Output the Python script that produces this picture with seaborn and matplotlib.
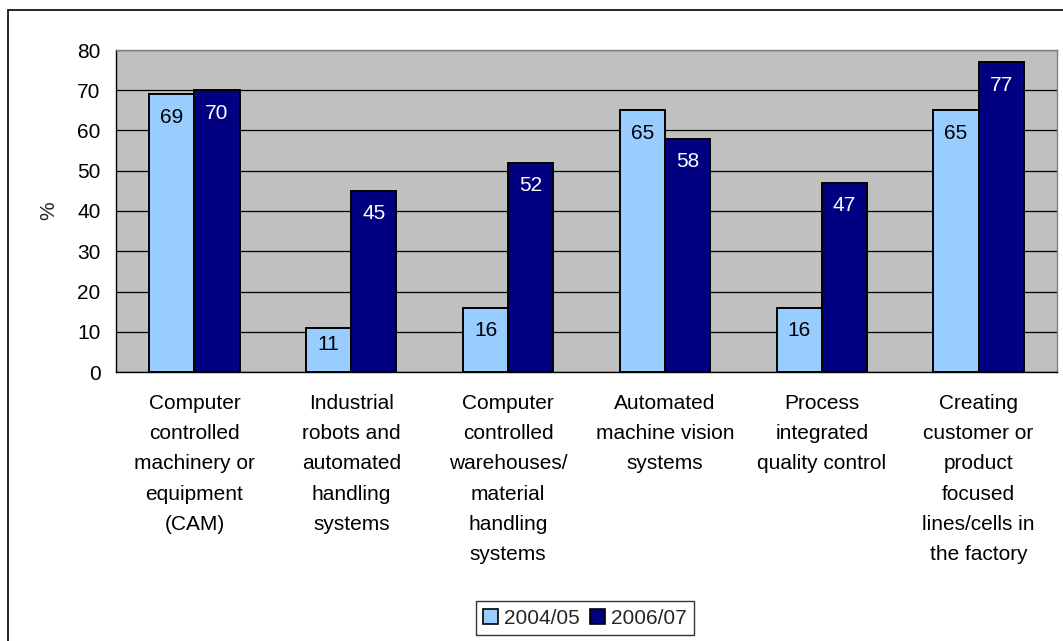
import matplotlib
matplotlib.use("Agg")
import matplotlib.pyplot as plt
from matplotlib.patches import Rectangle, Patch
import seaborn as sns
import pandas as pd

categories = [
    "Computer\ncontrolled\nmachinery or\nequipment\n(CAM)",
    "Industrial\nrobots and\nautomated\nhandling\nsystems",
    "Computer\ncontrolled\nwarehouses/\nmaterial\nhandling\nsystems",
    "Automated\nmachine vision\nsystems",
    "Process\nintegrated\nquality control",
    "Creating\ncustomer or\nproduct\nfocused\nlines/cells in\nthe factory",
]
series_names = ["2004/05", "2006/07"]
values_2004 = [69, 11, 16, 65, 16, 65]
values_2006 = [70, 45, 52, 58, 47, 77]
yticks = [0, 10, 20, 30, 40, 50, 60, 70, 80]

light = "#99CCFF"
navy = "#000080"
FS = 15

df = pd.DataFrame({
    "category": categories * 2,
    "period": [series_names[0]] * len(categories) + [series_names[1]] * len(categories),
    "value": values_2004 + values_2006,
})

sns.set_theme(style="white")
plt.rcParams["font.family"] = ["Liberation Sans", "DejaVu Sans"]

fig = plt.figure(figsize=(10.63, 6.41), dpi=100)
ax = fig.add_axes([116 / 1063, 1 - 372 / 641, (1057 - 116) / 1063, (372 - 50) / 641])
ax.set_facecolor("#C0C0C0")

sns.barplot(data=df, x="category", y="value", hue="period", order=categories,
            hue_order=series_names, palette=[light, navy], width=0.575,
            edgecolor="black", linewidth=1.4, saturation=1, ax=ax, legend=False)

ax.set_ylim(0, 80)
ax.set_xlim(-0.5, len(categories) - 0.5)
ax.set_yticks(yticks)
ax.set_yticklabels([str(t) for t in yticks], fontsize=FS)
ax.yaxis.grid(True, color="black", linewidth=0.9)
ax.set_axisbelow(True)

ax.set_xticks([i - 0.5 for i in range(len(categories) + 1)], minor=True)
ax.set_xticks(range(len(categories)))
ax.set_xticklabels(categories, fontsize=FS, linespacing=1.74, va="top")
ax.tick_params(axis="x", which="major", length=0, pad=16)
ax.tick_params(axis="x", which="minor", length=5, width=1, color="black", direction="out")
ax.tick_params(axis="y", length=5, width=1, color="black", direction="out", pad=6)
ax.tick_params(axis="both", colors="black", labelcolor="black")
ax.set_xlabel("")
ax.set_ylabel("%", fontsize=FS, labelpad=14)

for side in ["top", "right"]:
    ax.spines[side].set_color("#808080")
    ax.spines[side].set_linewidth(1)
for side in ["left", "bottom"]:
    ax.spines[side].set_color("black")
    ax.spines[side].set_linewidth(1)

# Value labels just inside the top of each bar (kept inside short bars)
px = 0.72  # points per pixel at 100 dpi
px_per_unit = (372 - 50) / 80
for container, color in zip(ax.containers, ["black", "white"]):
    for bar in container:
        h = bar.get_height()
        xc = bar.get_x() + bar.get_width() / 2
        if h * px_per_unit - 23 >= 28:
            xy, dy = (xc, h), -23
        else:
            xy, dy = (xc, 0), 28
        ax.annotate(str(int(h)), xy=xy, xytext=(0, dy * px), textcoords="offset points",
                    ha="center", va="center", color=color, fontsize=FS)

handles = [Patch(facecolor=light, edgecolor="black", linewidth=1.2),
           Patch(facecolor=navy, edgecolor="black", linewidth=1.2)]
leg = fig.legend(handles, series_names, loc="center", bbox_to_anchor=(585 / 1063, 1 - 618 / 641),
                 ncol=2, fontsize=FS, frameon=True, fancybox=False, handlelength=0.7,
                 handleheight=0.7, handletextpad=0.3, columnspacing=0.5, borderpad=0.35)
leg.get_frame().set_edgecolor("black")
leg.get_frame().set_linewidth(1)

# Outer chart border
fig.patches.append(Rectangle((8 / 1063, -0.1), 1.2, 1 - 10 / 641 + 0.1,
                             transform=fig.transFigure, fill=False,
                             edgecolor="black", linewidth=1.2))

fig.savefig("out.png", dpi=100)
